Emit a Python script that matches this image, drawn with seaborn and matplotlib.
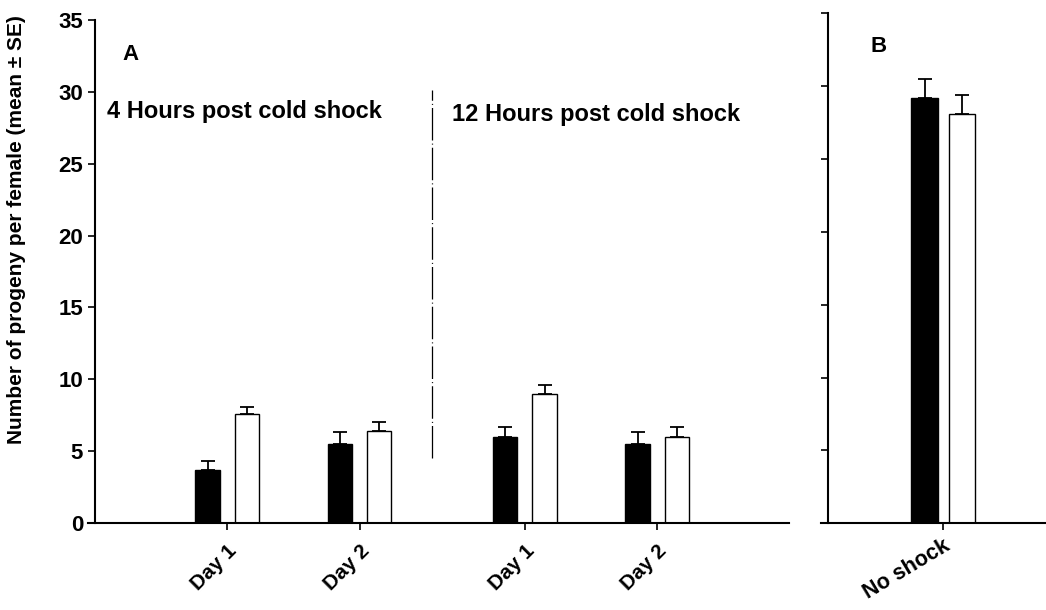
import matplotlib
matplotlib.use("Agg")
import matplotlib.pyplot as plt
import seaborn as sns
import pandas as pd
import numpy as np

# ---- data ----
categories_a = ["Day 1", "Day 2", "Day 1", "Day 2"]
positions_a = [1.0, 2.0, 3.25, 4.25]
series_names = ["Shocked", "Control"]
shocked_a = [3.7, 5.5, 6.0, 5.5]
shocked_a_se = [0.6, 0.8, 0.7, 0.8]
control_a = [7.55, 6.4, 8.95, 5.95]
control_a_se = [0.55, 0.65, 0.65, 0.7]

categories_b = ["No shock"]
shocked_b = [29.2]
shocked_b_se = [1.3]
control_b = [28.1]
control_b_se = [1.3]

group_labels = ["4 Hours post cold shock", "12 Hours post cold shock"]

sns.set_theme(style="ticks")
plt.rcParams['font.family'] = ['Liberation Sans', 'DejaVu Sans']
plt.rcParams['font.weight'] = 'bold'
plt.rcParams['text.color'] = 'black'
plt.rcParams['axes.labelcolor'] = 'black'
plt.rcParams['xtick.color'] = 'black'
plt.rcParams['ytick.color'] = 'black'

fig = plt.figure(figsize=(10.46, 6.10), dpi=100)
axA = fig.add_axes([95/1046, 1-523/610, (789-95)/1046, (523-20)/610])
axB = fig.add_axes([828/1046, 1-523.3/610, (1046-828)/1046, (523.3-13.3)/610])

palette = {"Shocked": "black", "Control": "white"}

dfA = pd.DataFrame({
    "pos": positions_a * 2,
    "series": [series_names[0]] * 4 + [series_names[1]] * 4,
    "value": shocked_a + control_a,
})

sns.barplot(data=dfA, x="pos", y="value", hue="series", hue_order=series_names,
            palette=palette, saturation=1, native_scale=True, width=0.595, gap=0.38,
            edgecolor="black", linewidth=1.0, errorbar=None, legend=False, ax=axA)

def add_err(ax, se_list_by_hue):
    # patches are ordered by hue level
    bars = [p for p in ax.patches if p.get_height() > 0]
    n = len(bars) // 2
    for i, b in enumerate(bars):
        h = i // n
        j = i % n
        xc = b.get_x() + b.get_width() / 2
        ax.errorbar(xc, b.get_height(), yerr=[[0], [se_list_by_hue[h][j]]],
                    fmt="none", ecolor="black", elinewidth=1.3, capsize=5, capthick=1.3,
                    zorder=1)

add_err(axA, [shocked_a_se, control_a_se])

axA.set_xlim(0, (789-95)/132.3)
axA.set_ylim(0, 35)
axA.set_yticks(np.arange(0, 36, 5))
axA.set_xticks(positions_a)
axA.set_xticklabels(categories_a, rotation=45, ha="right", va="top",
                    rotation_mode="anchor", fontsize=15, fontweight="bold")
axA.set_xlabel("")
axA.set_ylabel("Number of progeny per female (mean ± SE)", fontsize=15,
               fontweight="bold")
axA.yaxis.set_label_coords(-0.0994, 0.5825)
for lab in axA.get_yticklabels():
    lab.set_fontsize(16); lab.set_fontweight("bold")

axA.text(0.21, 32.6, "A", fontsize=16, fontweight="bold", va="center")
axA.text(0.09, 28.6, group_labels[0], fontsize=17, fontweight="bold", va="center")
axA.text(2.70, 28.4, group_labels[1], fontsize=17, fontweight="bold", va="center")
axA.plot([2.55, 2.55], [4.5, 30.1], color="black", lw=0.9, dashes=(26, 2.5, 0.8, 2.5))

# ---- panel B ----
dfB = pd.DataFrame({
    "pos": [0.0, 0.0],
    "series": series_names,
    "value": shocked_b + control_b,
})
sns.barplot(data=dfB, x="pos", y="value", hue="series", hue_order=series_names,
            palette=palette, saturation=1, native_scale=True, width=0.567, gap=0.29,
            edgecolor="black", linewidth=1.0, errorbar=None, legend=False, ax=axB)
add_err(axB, [shocked_b_se, control_b_se])
axB.set_xlim(-115.3/132, (1046-943.3)/132)
axB.set_ylim(0, 35)
axB.set_yticks(np.arange(0, 36, 5))
axB.set_yticklabels([])
axB.set_xticks([0.0])
axB.set_xticklabels(categories_b, rotation=31, ha="right", va="top",
                    rotation_mode="anchor", fontsize=15.5, fontweight="bold")
axB.set_xlabel("")
axB.set_ylabel("")
axB.text(-0.555, 32.7, "B", fontsize=16, fontweight="bold", va="center")

for ax in (axA, axB):
    sns.despine(ax=ax)
    ax.tick_params(axis="both", direction="out", length=5, width=1.2, colors="black")
    for sp in ("left", "bottom"):
        ax.spines[sp].set_linewidth(1.5)
        ax.spines[sp].set_color("black")
        ax.spines[sp].set_clip_on(False)
axA.tick_params(axis="x", pad=8)
axB.tick_params(axis="x", pad=4)

axA.spines["bottom"].set_bounds(-7/132.3, (789-95)/132.3)
axB.spines["bottom"].set_bounds(-(115.3+7)/132, (1046-943.3)/132)

fig.savefig("out.png", dpi=100)
